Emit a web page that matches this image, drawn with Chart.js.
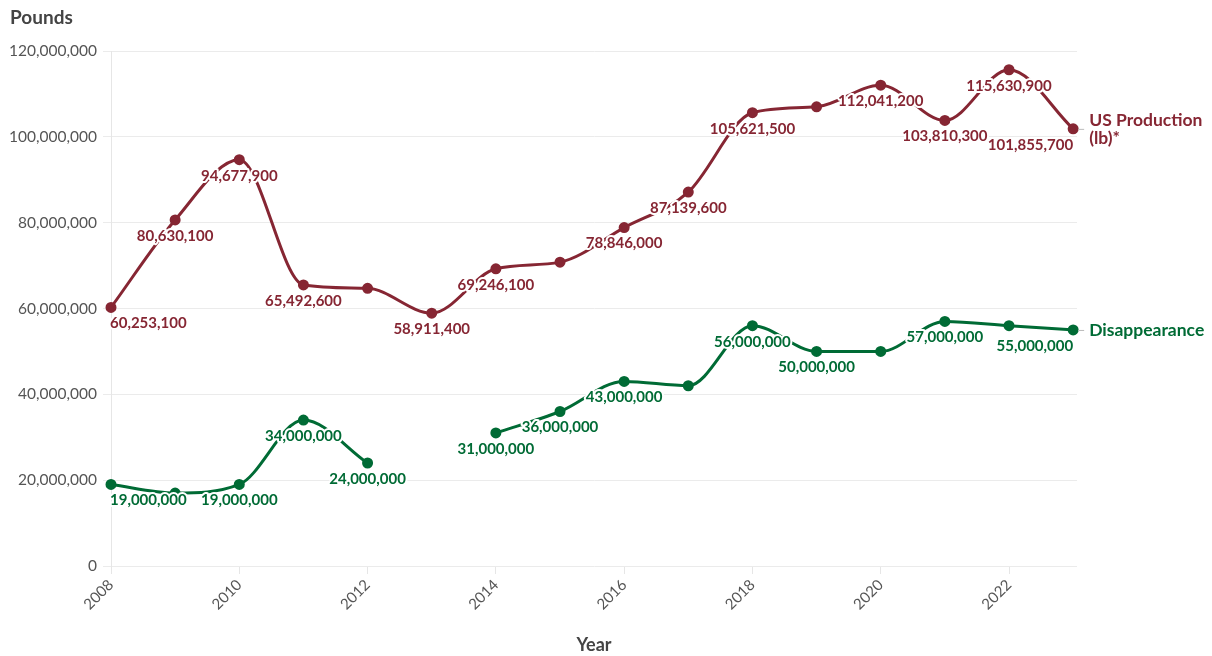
<!DOCTYPE html>
<html>
<head>
<meta charset="utf-8">
<script src="https://cdn.jsdelivr.net/npm/chart.js@4.4.0/dist/chart.umd.min.js"></script>
<style>
  html, body { margin: 0; padding: 0; background: #fff; }
  #wrap { width: 1212px; height: 656px; position: relative; }
</style>
</head>
<body>
<div id="wrap"><canvas id="c" width="1212" height="656"></canvas></div>
<script>
const years = [2008, 2009, 2010, 2011, 2012, 2013, 2014, 2015, 2016, 2017, 2018, 2019, 2020, 2021, 2022, 2023];
const production = [60253100, 80630100, 94677900, 65492600, 64700000, 58911400, 69246100, 70800000, 78846000, 87139600, 105621500, 107000000, 112041200, 103810300, 115630900, 101855700];
const disappearance = [19000000, 17000000, 19000000, 34000000, 24000000, null, 31000000, 36000000, 43000000, 42000000, 56000000, 50000000, 50000000, 57000000, 56000000, 55000000];
const xTickValues = [2008, 2010, 2012, 2014, 2016, 2018, 2020, 2022];
const yTickValues = [0, 20000000, 40000000, 60000000, 80000000, 100000000, 120000000];
const seriesValues = [production, disappearance];
const seriesLabels = ["US Production (lb)*", "Disappearance"];
const seriesNames = [["US Production", "(lb)*"], ["Disappearance"]];
const seriesColors = ["#862633", "#006b35"];

const FONT = "Lato, 'Open Sans', sans-serif";
const fmt = v => v.toLocaleString('en-US');

const labelPlugin = {
  id: 'valueLabels',
  afterDatasetsDraw(chart) {
    const ctx = chart.ctx;
    const area = chart.chartArea;
    const placed = [];
    ctx.save();
    ctx.font = "bold 15px " + FONT;
    ctx.textBaseline = 'middle';
    ctx.lineJoin = 'round';
    chart.data.datasets.forEach((ds, di) => {
      const meta = chart.getDatasetMeta(di);
      const vals = seriesValues[di];
      meta.data.forEach((pt, i) => {
        const v = vals[i];
        if (v === null || v === undefined) return;
        const txt = fmt(v);
        const w = ctx.measureText(txt).width;
        const h = 14;
        const cy = pt.y + 16;
        let left = pt.x - w / 2, align = 'center', tx = pt.x;
        if (left < area.left) { left = pt.x - 1; align = 'left'; tx = pt.x - 1; }
        else if (left + w > area.right) { left = pt.x - w; align = 'right'; tx = pt.x; }
        const box = { l: left, r: left + w, t: cy - h / 2, b: cy + h / 2 };
        const overlaps = placed.some(p => Math.min(p.r, box.r) - Math.max(p.l, box.l) > 2 && Math.min(p.b, box.b) - Math.max(p.t, box.t) > 0);
        if (overlaps) return;
        placed.push(box);
        ctx.textAlign = align;
        ctx.strokeStyle = '#ffffff';
        ctx.lineWidth = 4;
        ctx.strokeText(txt, tx, cy);
        ctx.fillStyle = ds.borderColor;
        ctx.fillText(txt, tx, cy);
      });
    });
    // end-of-line series names
    chart.data.datasets.forEach((ds, di) => {
      const meta = chart.getDatasetMeta(di);
      const pt = meta.data[meta.data.length - 1];
      const lines = seriesNames[di];
      ctx.strokeStyle = '#bbbbbb';
      ctx.lineWidth = 1;
      ctx.beginPath();
      ctx.moveTo(pt.x + 5, pt.y + 0.5);
      ctx.lineTo(pt.x + 11, pt.y + 0.5);
      ctx.stroke();
      ctx.font = "bold 17.5px " + FONT;
      ctx.fillStyle = ds.borderColor;
      ctx.textAlign = 'left';
      const lh = 18;
      const y0 = pt.y - (lines.length - 1) * lh / 2;
      lines.forEach((ln, k) => ctx.fillText(ln, pt.x + 16, y0 + k * lh));
    });
    // y-axis title
    ctx.font = "bold 19px " + FONT;
    ctx.fillStyle = '#444444';
    ctx.textAlign = 'left';
    ctx.fillText('Pounds', 10, 18);
    ctx.restore();
  }
};

const toXY = arr => arr.map((v, i) => ({ x: years[i], y: v }));

new Chart(document.getElementById('c'), {
  type: 'line',
  data: {
    datasets: seriesValues.map((vals, di) => ({
      label: seriesLabels[di],
      data: toXY(vals),
      borderColor: seriesColors[di],
      backgroundColor: seriesColors[di],
      pointBackgroundColor: seriesColors[di],
      pointBorderColor: seriesColors[di],
      borderWidth: 3,
      pointRadius: 4,
      pointHoverRadius: 4,
      cubicInterpolationMode: 'monotone',
      spanGaps: false,
      clip: false,
      fill: false
    }))
  },
  options: {
    responsive: false,
    animation: false,
    events: [],
    layout: { padding: { top: 51, right: 135, bottom: 0, left: 0 } },
    plugins: {
      legend: { display: false },
      tooltip: { enabled: false },
      title: { display: false }
    },
    scales: {
      x: {
        type: 'linear',
        min: 2008,
        max: 2023.06,
        afterBuildTicks: s => { s.ticks = xTickValues.map(v => ({ value: v })); },
        afterFit: s => { s.height = 90; },
        ticks: {
          minRotation: 45, maxRotation: 45,
          color: '#555555',
          font: { family: FONT, size: 15 },
          padding: 2,
          callback: v => String(v)
        },
        grid: { display: true, drawOnChartArea: false, drawTicks: true, tickLength: 8, color: '#e6e6e6' },
        border: { display: false },
        title: { display: true, text: 'Year', color: '#444444', font: { family: FONT, size: 18, weight: 'bold' }, padding: { top: 19, bottom: 0 } }
      },
      y: {
        type: 'linear',
        min: 0,
        max: 120000000,
        afterBuildTicks: s => { s.ticks = yTickValues.map(v => ({ value: v })); },
        afterFit: s => { s.width = 111; },
        ticks: {
          color: '#555555',
          font: { family: FONT, size: 15.5 },
          padding: 6,
          callback: v => fmt(v)
        },
        grid: { color: '#ebebeb', tickLength: 8, drawTicks: true },
        border: { display: true, color: '#e6e6e6' }
      }
    }
  },
  plugins: [labelPlugin]
});
</script>
</body>
</html>
